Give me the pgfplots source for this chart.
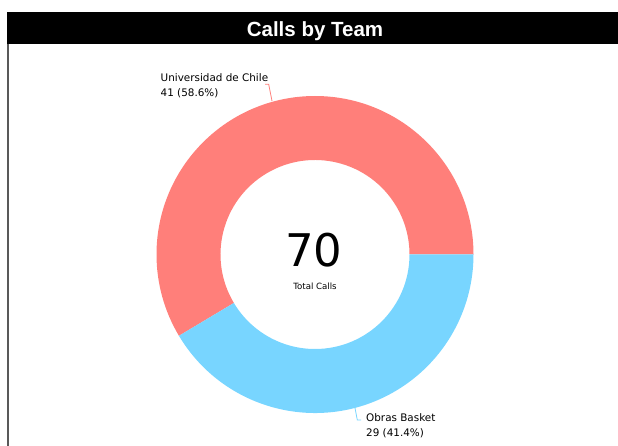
\documentclass[border=0pt]{standalone}
\usepackage{pgfplots}
\pgfplotsset{compat=1.18}
\usepackage{pgfplotstable}
\usepackage{fontspec}
\setmainfont{DejaVu Sans}
\newfontfamily\titlefont{Liberation Sans}
\definecolor{uchile}{RGB}{255,127,122}
\definecolor{obras}{RGB}{120,213,255}
\pgfkeys{/pgf/number format/assume math mode=true}
\pgfplotstableread{
team calls
UdeChile 41
Obras 29
}\calldata
\begin{document}
\begin{tikzpicture}
\pgfplotstablegetelem{0}{calls}\of\calldata \let\va\pgfplotsretval
\pgfplotstablegetelem{1}{calls}\of\calldata \let\vb\pgfplotsretval
\pgfmathsetmacro\total{\va+\vb}
\pgfmathsetmacro\angA{360*\va/\total}
\pgfmathsetmacro\pA{100*\va/\total}
\pgfmathsetmacro\pB{100*\vb/\total}
\useasboundingbox (0,0) rectangle (618pt,446pt);
\begin{axis}[
  at={(0,0)}, anchor=south west,
  scale only axis, width=618pt, height=446pt,
  xmin=0, xmax=618, ymin=0, ymax=446, y dir=reverse,
  hide axis, clip=false,
]
% title bar and frame
\fill[black] (axis cs:7,12) rectangle (axis cs:618,44.5);
\fill[black!65] (axis cs:7.3,44.5) rectangle (axis cs:9,446);
\node[text=white, font=\titlefont\bfseries\fontsize{20.5}{24}\selectfont, anchor=base] at (axis cs:315,36.5) {Calls by Team};
% donut slices from data
\fill[uchile] (axis cs:315,254.5) ++(0:158.5pt) arc[start angle=0, end angle=\angA, radius=158.5pt]
  -- ([shift={(\angA:94.5pt)}]axis cs:315,254.5) arc[start angle=\angA, end angle=0, radius=94.5pt] -- cycle;
\fill[obras] (axis cs:315,254.5) ++(\angA:158.5pt) arc[start angle=\angA, end angle=360, radius=158.5pt]
  -- ([shift={(360:94.5pt)}]axis cs:315,254.5) arc[start angle=360, end angle=\angA, radius=94.5pt] -- cycle;
% leader lines
\draw[uchile, line width=0.8pt] (axis cs:265,84.3) -- (axis cs:268.7,84.3) -- (axis cs:272,101);
\draw[obras, line width=0.8pt] (axis cs:355,408) -- (axis cs:357.3,420) -- (axis cs:361,420);
% labels
\node[anchor=base west, font=\fontsize{10.4}{15}\selectfont, inner sep=0pt] at (axis cs:160.5,81.3) {Universidad de Chile};
\node[anchor=base west, font=\fontsize{10.4}{15}\selectfont, inner sep=0pt] at (axis cs:160.5,96.3) {\va{} (\pgfmathprintnumber[fixed,precision=1,fixed zerofill]{\pA}\%)};
\node[anchor=base west, font=\fontsize{10.4}{15}\selectfont, inner sep=0pt] at (axis cs:366,421.7) {Obras Basket};
\node[anchor=base west, font=\fontsize{10.4}{15}\selectfont, inner sep=0pt] at (axis cs:366,436.7) {\vb{} (\pgfmathprintnumber[fixed,precision=1,fixed zerofill]{\pB}\%)};
% centre text
\node[anchor=base, font=\fontsize{45}{50}\selectfont, inner sep=0pt] at (axis cs:314,266) {\pgfmathprintnumber[fixed,precision=0]{\total}};
\node[anchor=base, font=\fontsize{8.6}{10}\selectfont, inner sep=0pt] at (axis cs:315,289) {Total Calls};
\end{axis}
\end{tikzpicture}
\end{document}
